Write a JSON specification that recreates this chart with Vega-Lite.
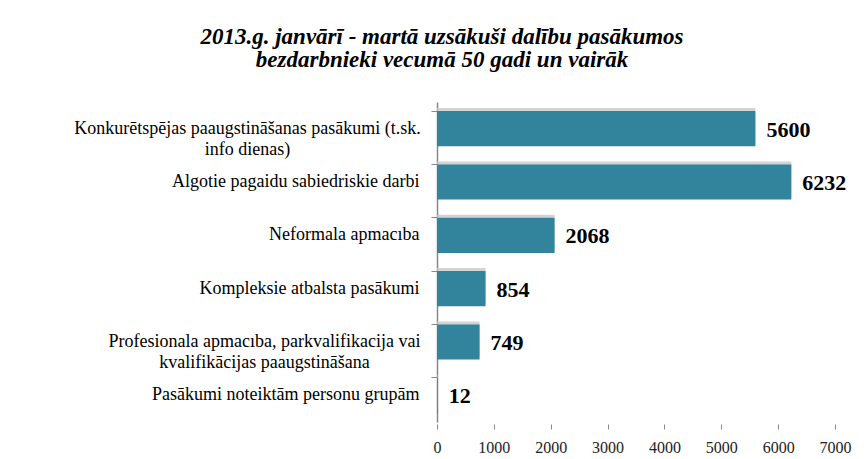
{
  "$schema": "https://vega.github.io/schema/vega-lite/v6.json",
  "autosize": {"type": "none"},
  "padding": {"left": 437, "top": 102, "right": 31, "bottom": 37},
  "width": 398,
  "height": 320,
  "background": "white",
  "title": {
    "text": ["2013.g. janvārī - martā uzsākuši dalību pasākumos", "bezdarbnieki vecumā 50 gadi un vairāk"],
    "font": "Liberation Serif",
    "fontSize": 23,
    "fontWeight": "bold",
    "fontStyle": "italic",
    "color": "#000000",
    "anchor": "middle",
    "dx": -194,
    "offset": 30,
    "lineHeight": 23
  },
  "config": {
    "view": {"stroke": null},
    "font": "Liberation Serif"
  },
  "data": {
    "values": [
      {"order": 1, "cat": "Konkurētspējas paaugstināšanas pasākumi (t.sk.|info dienas)", "value": 5600},
      {"order": 2, "cat": "Algotie pagaidu sabiedriskie darbi", "value": 6232},
      {"order": 3, "cat": "Neformala apmacıba", "value": 2068},
      {"order": 4, "cat": "Kompleksie atbalsta pasākumi", "value": 854},
      {"order": 5, "cat": "Profesionala apmacıba, parkvalifikacija vai|kvalifikācijas paaugstināšana", "value": 749},
      {"order": 6, "cat": "Pasākumi noteiktām personu grupām", "value": 12}
    ]
  },
  "encoding": {
    "y": {
      "field": "cat",
      "type": "nominal",
      "sort": {"field": "order", "op": "min"},
      "title": null,
      "scale": {"paddingInner": 0.34, "paddingOuter": 0.17},
      "axis": {
        "labelExpr": "split(datum.value, '|')",
        "labelFont": "Liberation Serif",
        "labelFontSize": 18,
        "labelLineHeight": 21,
        "labelColor": "#000000",
        "labelAlign": {"condition": {"test": "indexof(datum.value, '|') >= 0", "value": "center"}, "value": "right"},
        "labelPadding": {"condition": [
          {"test": "indexof(datum.value, 'Konkur') == 0", "value": 184},
          {"test": "indexof(datum.value, 'Profes') == 0", "value": 167}
        ], "value": 12},
        "labelLimit": 500,
        "bandPosition": 0,
        "domainColor": "#888888",
        "domainWidth": 1.5,
        "tickColor": "#888888",
        "tickSize": 6,
        "labelBound": false
      }
    },
    "x": {
      "field": "value",
      "type": "quantitative",
      "title": null,
      "scale": {"domain": [0, 7000], "nice": false},
      "axis": {
        "values": [0, 1000, 2000, 3000, 4000, 5000, 6000, 7000],
        "format": "d",
        "grid": false,
        "domain": false,
        "tickColor": "#888888",
        "tickSize": 5,
        "offset": 2,
        "labelFont": "Liberation Serif",
        "labelFontSize": 16,
        "labelColor": "#222222",
        "labelPadding": 10,
        "labelFlush": false
      }
    }
  },
  "layer": [
    {
      "mark": {"type": "bar", "color": "#c4c4c4", "opacity": 0.75, "yOffset": -3, "x2Offset": 6},
      "encoding": {}
    },
    {
      "mark": {"type": "bar", "color": "#31849b"},
      "encoding": {}
    },
    {
      "mark": {"type": "text", "align": "left", "baseline": "middle", "dx": 11, "dy": 1, "font": "Liberation Serif", "fontSize": 22, "fontWeight": "bold", "color": "#000000"},
      "encoding": {"text": {"field": "value", "type": "quantitative", "format": "d"}}
    }
  ]
}
